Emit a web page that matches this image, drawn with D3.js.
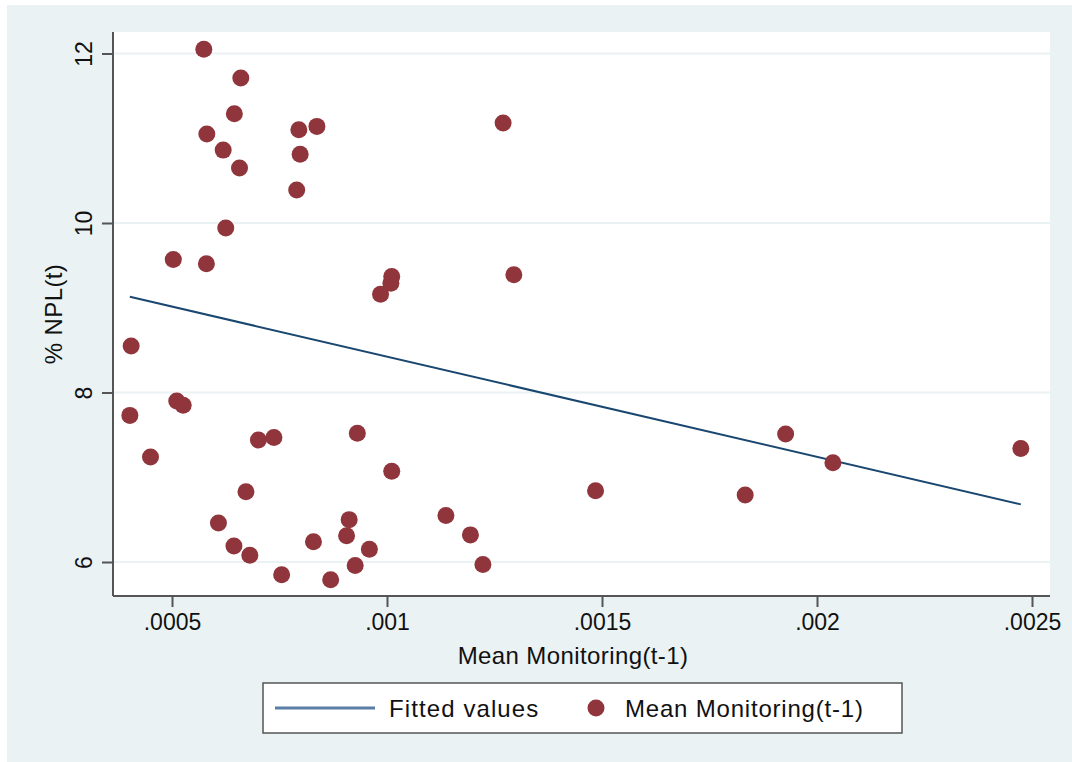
<!DOCTYPE html>
<html>
<head>
<meta charset="utf-8">
<script src="https://cdn.jsdelivr.net/npm/d3@7"></script>
<style>
  body { margin: 0; background: #fff; }
  text { font-family: "Liberation Sans", Arial, sans-serif; fill: #111; }
</style>
</head>
<body>
<svg id="chart" width="1072" height="762"></svg>
<script>
// x = Mean Monitoring(t-1), y = % NPL(t)
const monitoring = [
  0.000574, 0.000660, 0.000645, 0.000581, 0.000619, 0.000657, 0.000795, 0.000837,
  0.000798, 0.000790, 0.000625, 0.000503, 0.000580, 0.001270, 0.001011, 0.001009,
  0.000985, 0.001295, 0.000405, 0.000402, 0.000511, 0.000526, 0.000450, 0.000701,
  0.000737, 0.000672, 0.000608, 0.000644, 0.000681, 0.000755, 0.000829, 0.000869,
  0.000912, 0.000906, 0.000926, 0.000931, 0.001011, 0.001137, 0.001194, 0.001223,
  0.001485, 0.000959, 0.001927, 0.002037, 0.001833, 0.002474
]
const npl = [
  12.05, 11.71, 11.29, 11.05, 10.86, 10.65, 11.10, 11.14,
  10.81, 10.39, 9.94, 9.57, 9.52, 11.18, 9.37, 9.29,
  9.16, 9.39, 8.55, 7.73, 7.90, 7.85, 7.24, 7.44,
  7.47, 6.83, 6.46, 6.19, 6.08, 5.85, 6.24, 5.79,
  6.50, 6.31, 5.96, 7.52, 7.07, 6.55, 6.32, 5.97,
  6.84, 6.15, 7.51, 7.17, 6.79, 7.34
]
// fitted line end points
const fitX = [0.000402, 0.002474]
const fitY = [9.13, 6.68]

const xTicks = [0.0005, 0.001, 0.0015, 0.002, 0.0025]
const xTickLabels = ['.0005', '.001', '.0015', '.002', '.0025']
const yTicks = [6, 8, 10, 12]
const legendLabels = ['Fitted values', 'Mean Monitoring(t-1)']

const bg = '#eaf2f3'
const lineColor = '#1a476f'
const dotColor = '#90353b'
const axisColor = '#555'
const tickFont = 23
const titleFont = 24

const svg = d3.select('#chart')

// outer background + plot region
svg.append('rect').attr('x', 7).attr('y', 5).attr('width', 1065).attr('height', 757).attr('fill', bg)

const plot = {left: 113, right: 1050, top: 32, bottom: 596}
svg.append('rect')
  .attr('x', plot.left).attr('y', plot.top)
  .attr('width', plot.right - plot.left).attr('height', plot.bottom - plot.top)
  .attr('fill', '#fff')

const xScale = d3.scaleLinear().domain([0.0005, 0.0025]).range([172, 1032])
const yScale = d3.scaleLinear().domain([6, 12]).range([562, 53.5])

// gridlines
svg.append('g').selectAll('line')
  .data(yTicks)
  .join('line')
  .attr('x1', plot.left).attr('x2', plot.right)
  .attr('y1', d => yScale(d)).attr('y2', d => yScale(d))
  .attr('stroke', bg).attr('stroke-width', 2)

// y axis
const yAxis = svg.append('g')
  .attr('transform', `translate(${plot.left},0)`)
  .call(d3.axisLeft(yScale).tickValues(yTicks).tickSize(11).tickPadding(0).tickFormat(d3.format('d')))
yAxis.select('.domain').attr('stroke', axisColor).attr('stroke-width', 2)
  .attr('d', `M0,${plot.top}V${plot.bottom}`)
yAxis.selectAll('.tick line').attr('stroke', axisColor).attr('stroke-width', 2)
yAxis.selectAll('.tick text')
  .attr('x', 0).attr('dy', 0)
  .attr('transform', 'translate(-21,0) rotate(-90)')
  .attr('text-anchor', 'middle')
  .attr('font-size', tickFont)
  .attr('fill', '#111')
  .style('font-family', '"Liberation Sans", Arial, sans-serif')

// x axis
const xAxis = svg.append('g')
  .attr('transform', `translate(0,${plot.bottom})`)
  .call(d3.axisBottom(xScale).tickValues(xTicks).tickSize(11).tickPadding(7)
    .tickFormat((d, i) => xTickLabels[i]))
xAxis.select('.domain').attr('stroke', axisColor).attr('stroke-width', 2)
  .attr('d', `M${plot.left},0H${plot.right}`)
xAxis.selectAll('.tick line').attr('stroke', axisColor).attr('stroke-width', 2)
xAxis.selectAll('.tick text')
  .attr('font-size', tickFont)
  .attr('fill', '#111')
  .style('font-family', '"Liberation Sans", Arial, sans-serif')

// axis titles
svg.append('text')
  .attr('x', 573).attr('y', 664)
  .attr('text-anchor', 'middle').attr('font-size', titleFont)
  .attr('letter-spacing', 0.4)
  .text('Mean Monitoring(t-1)')

svg.append('text')
  .attr('transform', `translate(62,${(plot.top + plot.bottom) / 2}) rotate(-90)`)
  .attr('text-anchor', 'middle').attr('font-size', titleFont)
  .attr('letter-spacing', 0.4)
  .text('% NPL(t)')

// fitted line
svg.append('path')
  .datum(fitX.map((x, i) => ({x, y: fitY[i]})))
  .attr('fill', 'none')
  .attr('stroke', lineColor)
  .attr('stroke-width', 2)
  .attr('d', d3.line().x(d => xScale(d.x)).y(d => yScale(d.y)))

// scatter points
svg.append('g').selectAll('circle')
  .data(monitoring.map((x, i) => ({x, y: npl[i]})))
  .join('circle')
  .attr('cx', d => xScale(d.x))
  .attr('cy', d => yScale(d.y))
  .attr('r', 8.5)
  .attr('fill', dotColor)

// legend
const legend = svg.append('g')
legend.append('rect')
  .attr('x', 263).attr('y', 683).attr('width', 639).attr('height', 50)
  .attr('fill', '#fff').attr('stroke', axisColor).attr('stroke-width', 1.5)
legend.append('line')
  .attr('x1', 275).attr('x2', 375).attr('y1', 708).attr('y2', 708)
  .attr('stroke', '#5b7ea6').attr('stroke-width', 3)
legend.append('text')
  .attr('x', 389).attr('y', 717).attr('font-size', titleFont)
  .attr('letter-spacing', 1.1)
  .text(legendLabels[0])
legend.append('circle')
  .attr('cx', 596).attr('cy', 708).attr('r', 8.5).attr('fill', dotColor)
legend.append('text')
  .attr('x', 625).attr('y', 717).attr('font-size', titleFont)
  .attr('letter-spacing', 0.8)
  .text(legendLabels[1])
</script>
</body>
</html>
